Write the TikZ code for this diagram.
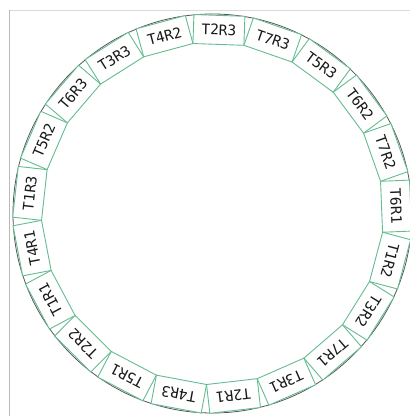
\documentclass[tikz,border=0pt]{standalone}
\usepackage{fontspec}
\usetikzlibrary{calc}
\newfontfamily\boxfont{DejaVu Sans Mono}
\definecolor{cellgreen}{RGB}{100,188,145}
\definecolor{ringgray}{RGB}{85,85,85}
\begin{document}
\begin{tikzpicture}[x=1pt,y=1pt,
  cell/.style={draw=cellgreen, line width=0.9pt, fill=white,
    minimum width=51pt, minimum height=29pt, inner sep=0pt,
    font=\boxfont\fontsize{14.5}{14.5}\selectfont, text=black!90},
  ring/.style={draw=ringgray, line width=0.8pt},
  frameline/.style={line width=0.8pt}]
\useasboundingbox (0,0) rectangle (410,-416);
\clip (0,0) rectangle (410,-416);
\draw[frameline, gray!30] (9,-10) -- (410,-10);
\draw[frameline, gray!55] (9,-10) -- (9,-416);
\coordinate (c) at (212.5,-213.5);
\draw[ring] (c) circle (199.5);
\foreach \lab [count=\i from 0] in {T2R3,T7R3,T5R3,T6R2,T7R2,T6R1,T1R2,T3R2,T7R1,T3R1,T2R1,T4R3,T5R1,T2R2,T1R1,T4R1,T1R3,T5R2,T6R3,T3R3,T4R2} {
  \pgfmathsetmacro\ang{88-\i*360/21}
  \pgfmathsetmacro\rot{\ang-90}
  \node[cell, rotate=\rot] (b\i) at ($(c)+(\ang:183.7)$) {\lab};
}
\end{tikzpicture}
\end{document}
